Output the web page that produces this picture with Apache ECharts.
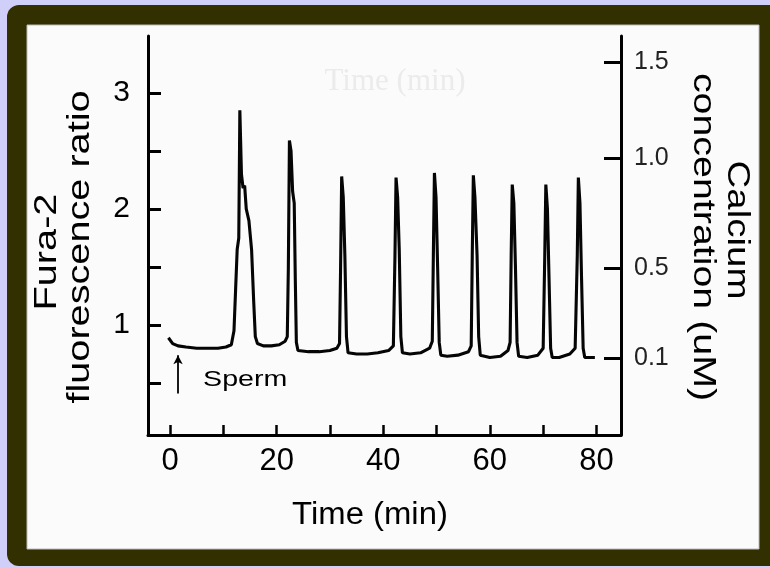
<!DOCTYPE html>
<html><head><meta charset="utf-8">
<script src="https://cdn.jsdelivr.net/npm/echarts@6/dist/echarts.min.js"></script>
<style>html,body{margin:0;padding:0;background:#cfcffa}#c{width:770px;height:567px}</style>
</head><body><div id="c"></div>
<script>
// ---- data ----
const timeMin = [-0.3,0,0.5,1.5,3,5,7,9,10.5,11.5,12.0,12.3,12.6,12.9,13.1,13.4,13.7,14.0,14.3,14.8,15.3,15.7,16.0,16.4,17.5,19,20.5,21.6,22.0,22.2,22.4,22.7,23.0,23.3,23.5,23.7,24.0,26,28,30,31.3,31.8,32.0,32.2,32.5,32.8,33.1,33.4,35,37,39,41,41.9,42.2,42.4,42.7,43.0,43.3,43.6,45,47,48.7,49.2,49.4,49.6,49.9,50.2,50.5,50.8,52,54,56,56.5,56.7,56.9,57.2,57.6,57.9,58.2,60,62,63.4,63.8,64.0,64.2,64.5,64.8,65.1,65.4,67,69,70.0,70.3,70.5,70.8,71.1,71.4,71.7,73,75,76.0,76.4,76.6,76.9,77.2,77.5,77.8,79.7];
const fura2Ratio = [0.89,0.88,0.84,0.82,0.81,0.80,0.80,0.80,0.81,0.83,0.95,1.3,1.65,1.75,2.85,2.3,2.18,2.2,2.0,1.9,1.65,1.2,0.9,0.84,0.82,0.82,0.83,0.86,0.9,1.5,2.59,2.5,2.15,2.05,1.4,0.85,0.78,0.77,0.77,0.78,0.80,0.84,1.5,2.28,2.1,1.6,0.9,0.76,0.75,0.75,0.76,0.78,0.82,1.6,2.27,2.1,1.65,0.9,0.76,0.75,0.76,0.80,0.86,1.6,2.31,2.1,1.5,0.85,0.74,0.73,0.74,0.77,0.82,1.6,2.29,2.1,1.6,0.9,0.74,0.72,0.73,0.78,0.85,1.6,2.21,2.05,1.5,0.85,0.73,0.72,0.74,0.80,1.6,2.21,2.0,1.4,0.8,0.72,0.72,0.75,0.80,1.6,2.27,2.05,1.4,0.8,0.72,0.72];
const xTickValues = [0,10,20,30,40,50,60,70,80];
const xLabelValues = [0,20,40,60,80];
const ratioTickValues = [0.5,1,1.5,2,2.5,3];
const ratioLabelValues = [1,2,3];
const calciumTickRatios = [0.715,1.491,2.439,3.266];
const calciumTickLabels = ['0.1','0.5','1.0','1.5'];
const spermArrow = {time:1.5, from:0.41, to:0.74};
const spermLabel = {text:'Sperm', time:6.2, ratio:0.526};
const xTitle = 'Time (min)';
const leftTitle = ['Fura-2','fluorescence ratio'];
const rightTitle = ['Calcium','concentration (uM)'];
const ghostTitle = 'Time (min)';

const FONT = '"Liberation Sans", Arial, Helvetica, sans-serif';
const seriesData = timeMin.map((t,i)=>[t, fura2Ratio[i]]);

const chart = echarts.init(document.getElementById('c'), null, {renderer:'canvas'});
const axisLine = {show:true, onZero:false, lineStyle:{color:'#000', width:3}};
const option = {
  animation:false,
  backgroundColor:'#cfcffa',
  grid:{left:148, right:149, top:36, bottom:132, containLabel:false},
  xAxis:{type:'value', min:-4.13, max:84.6, axisLine:axisLine,
    axisTick:{show:true, inside:true, length:10, customValues:xTickValues, lineStyle:{color:'#000', width:2.5}},
    axisLabel:{show:true, customValues:xLabelValues, margin:11, color:'#000', fontSize:31, fontFamily:FONT},
    splitLine:{show:false}},
  yAxis:[
    {type:'value', position:'left', min:0.052, max:3.49, axisLine:axisLine,
     axisTick:{show:true, inside:true, length:13, customValues:ratioTickValues, lineStyle:{color:'#000', width:3}},
     axisLabel:{show:true, customValues:ratioLabelValues, margin:18, color:'#000', fontSize:30, fontFamily:FONT},
     splitLine:{show:false}},
    {type:'value', position:'right', min:0.052, max:3.49, axisLine:axisLine,
     axisTick:{show:true, inside:true, length:17, customValues:calciumTickRatios, lineStyle:{color:'#000', width:3}},
     axisLabel:{show:true, customValues:calciumTickRatios, margin:13, color:'#222', fontSize:25, fontFamily:FONT,
       formatter:(v)=>{let best=0;calciumTickRatios.forEach((r,i)=>{if(Math.abs(r-v)<Math.abs(calciumTickRatios[best]-v))best=i;});return calciumTickLabels[best];}},
     splitLine:{show:false}}
  ],
  series:[{
    type:'line', data:seriesData, showSymbol:false, yAxisIndex:0,
    lineStyle:{color:'#050505', width:3.1}, z:5,
    markLine:{silent:true, symbol:['none','arrow'], symbolSize:[7,9], label:{show:false},
      lineStyle:{color:'#000', width:1.8, type:'solid'},
      data:[[{coord:[spermArrow.time, spermArrow.from]},{coord:[spermArrow.time, spermArrow.to]}]]}
  }]
};
chart.setOption(option);

const sp = chart.convertToPixel({xAxisIndex:0, yAxisIndex:0}, [spermLabel.time, spermLabel.ratio]);
function txt(text, x, y, size, opts){
  opts = opts||{};
  return {type:'text', x:x, y:y, rotation:opts.rot||0, scaleX:opts.sx||1, z:opts.z||10, silent:true,
    style:{text:text, font:(opts.family? size+'px '+opts.family : size+'px '+FONT), fill:opts.fill||'#000',
      align:opts.align||'center', textAlign:opts.align||'center', verticalAlign:'middle', textVerticalAlign:'middle'}};
}
chart.setOption({graphic:[
  {type:'rect', z:-20, silent:true, shape:{x:7, y:5, width:800, height:561, r:12}, style:{fill:'#323000'}},
  {type:'rect', z:-19, silent:true, shape:{x:27, y:25, width:732, height:524}, style:{fill:'#fbfbfb', stroke:'#bbbbbb', lineWidth:1}},
  txt(ghostTitle, 395, 82, 31, {family:'"Liberation Serif", serif', fill:'#ebebeb', z:-18}),
  txt(spermLabel.text, sp[0], sp[1], 22, {align:'left', sx:1.3}),
  txt(xTitle, 370, 515, 31, {sx:1.06}),
  txt(leftTitle[0], 47, 252, 32, {rot:Math.PI/2, sx:1.24}),
  txt(leftTitle[1], 80, 247, 32, {rot:Math.PI/2, sx:1.24}),
  txt(rightTitle[0], 737, 230, 31, {rot:-Math.PI/2, sx:1.24}),
  txt(rightTitle[1], 703, 237, 31, {rot:-Math.PI/2, sx:1.27})
]});
</script></body></html>
